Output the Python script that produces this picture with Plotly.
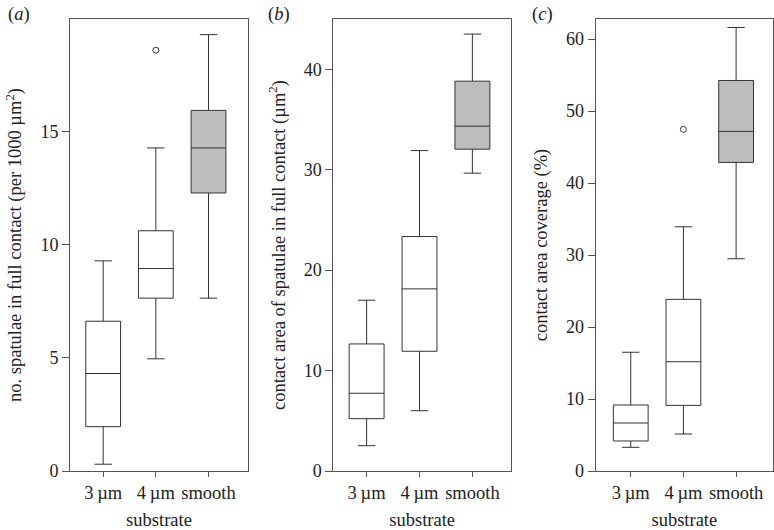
import plotly.graph_objects as go

categories = ["3\u2009\u00b5m", "4\u2009\u00b5m", "smooth"]

# panel (a): no. spatulae in full contact (per 1000 um^2)
a_low = [0.30, 4.96, 7.64]
a_q1 = [1.96, 7.64, 12.29]
a_med = [4.31, 8.95, 14.28]
a_q3 = [6.62, 10.62, 15.94]
a_up = [9.29, 14.28, 19.29]
a_out_cat = ["4\u2009\u00b5m"]
a_out_val = [18.6]

# panel (b): contact area of spatulae in full contact (um^2)
b_low = [2.52, 6.0, 29.65]
b_q1 = [5.21, 11.92, 32.04]
b_med = [7.74, 18.13, 34.33]
b_q3 = [12.65, 23.34, 38.81]
b_up = [17.0, 31.9, 43.5]

# panel (c): contact area coverage (%)
c_low = [3.29, 5.14, 29.49]
c_q1 = [4.17, 9.12, 42.87]
c_med = [6.67, 15.18, 47.18]
c_q3 = [9.17, 23.85, 54.26]
c_up = [16.5, 33.93, 61.62]
c_out_cat = ["4\u2009\u00b5m"]
c_out_val = [47.46]

fills = ["white", "white", "#bdbdbd"]
LINE = "#333333"
FONT = "Liberation Serif"
FS = 18.5
TFS = 18

fig = go.Figure()

panels = [
    ("x", "y", a_low, a_q1, a_med, a_q3, a_up, a_out_cat, a_out_val),
    ("x2", "y2", b_low, b_q1, b_med, b_q3, b_up, [], []),
    ("x3", "y3", c_low, c_q1, c_med, c_q3, c_up, c_out_cat, c_out_val),
]

for xa, ya, lo, q1, md, q3, up, oc, ov in panels:
    for i, cat in enumerate(categories):
        fig.add_trace(go.Box(
            x=[cat], lowerfence=[lo[i]], q1=[q1[i]], median=[md[i]],
            q3=[q3[i]], upperfence=[up[i]],
            fillcolor=fills[i], line=dict(color=LINE, width=1),
            width=0.66, whiskerwidth=0.5, boxpoints=False,
            xaxis=xa, yaxis=ya, showlegend=False, hoverinfo="skip",
        ))
    if oc:
        fig.add_trace(go.Scatter(
            x=oc, y=ov, mode="markers", xaxis=xa, yaxis=ya,
            marker=dict(symbol="circle-open", size=6, color=LINE, line=dict(width=1)),
            showlegend=False, hoverinfo="skip",
        ))

ydom = [1 - 471 / 530, 1 - 19 / 530]
xdoms = [[70 / 774, 248 / 774], [333.3 / 774, 511 / 774], [595.7 / 774, 773 / 774]]
yranges = [[0, 19.98], [0, 45], [0, 62.8]]
ytitles = [
    "no. spatulae in full contact (per 1000 \u00b5m<sup>2</sup>)",
    "contact area of spatulae in full contact (\u00b5m<sup>2</sup>)",
    "contact area coverage (%)",
]
ydticks = [5, 10, 10]
xranges = [[-0.63, 2.75], [-0.63, 2.73], [-0.665, 2.70]]

axcommon = dict(showline=True, linecolor="#555555", linewidth=1, mirror=True,
                ticks="outside", tickcolor="#555555", showgrid=False, zeroline=False,
                automargin=False,
                tickfont=dict(family=FONT, size=TFS, color="#222222"))

layout = dict(
    width=774, height=530, margin=dict(l=0, r=0, t=0, b=0),
    plot_bgcolor="white", paper_bgcolor="white", boxmode="overlay",
    font=dict(family=FONT, size=FS, color="#222222"),
)
for k in range(3):
    sx = "" if k == 0 else str(k + 1)
    layout["xaxis" + sx] = dict(
        axcommon, domain=xdoms[k], anchor="y" + sx, type="category",
        categoryorder="array", categoryarray=categories, range=xranges[k],
        ticklen=5,
        tickfont=dict(family=FONT, size=FS, color="#222222"),
        title=dict(text="substrate", font=dict(family=FONT, size=FS), standoff=11),
    )
    layout["yaxis" + sx] = dict(
        axcommon, domain=ydom, anchor="x" + sx, range=yranges[k],
        dtick=ydticks[k], tick0=0, ticklen=7,
        title=dict(text=ytitles[k], font=dict(family=FONT, size=FS), standoff=13),
    )

fig.update_layout(**layout)

labels = ["a", "b", "c"]
lab_x = [6 / 774, 266 / 774, 530 / 774]
for k in range(3):
    fig.add_annotation(text="(<i>%s</i>)" % labels[k], x=lab_x[k], y=1 - 2 / 530,
                       xref="paper", yref="paper", xanchor="left", yanchor="top",
                       showarrow=False, font=dict(family=FONT, size=FS, color="#222222"))

fig.write_html("out.html", config={"displayModeBar": False},
               post_script="document.body.style.margin='0px';document.body.style.overflow='hidden';")
